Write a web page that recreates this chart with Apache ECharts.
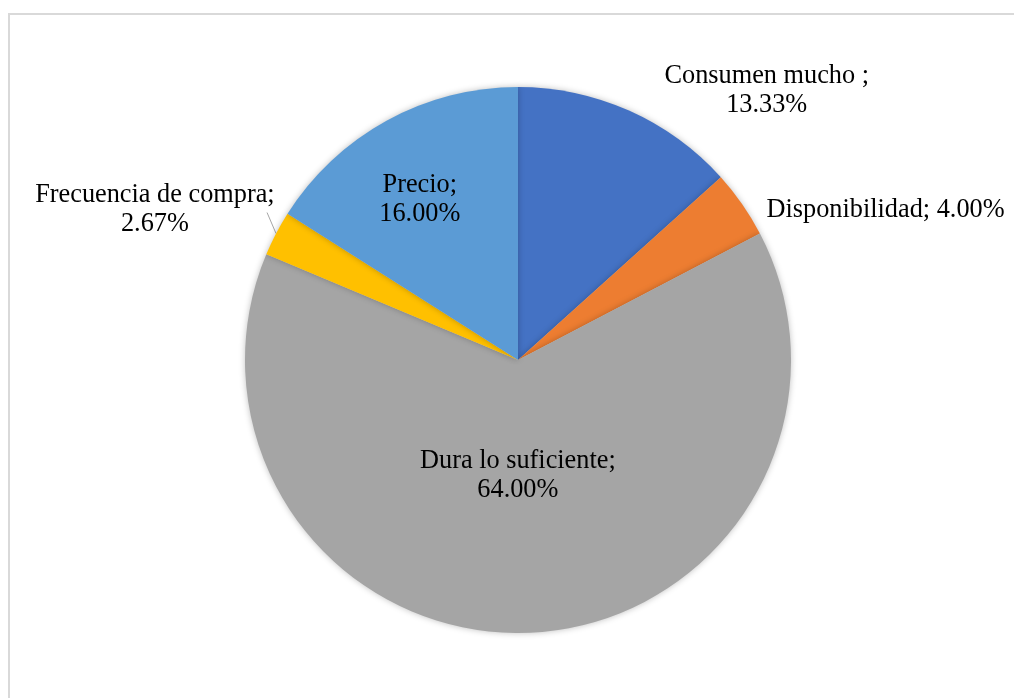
<!DOCTYPE html>
<html>
<head>
<meta charset="utf-8">
<script src="https://cdn.jsdelivr.net/npm/echarts@6/dist/echarts.min.js"></script>
<style>
html,body{margin:0;padding:0;background:#fff;}
#chart{width:1014px;height:698px;}
</style>
</head>
<body>
<div id="chart"></div>
<script>
const categories = ['Consumen mucho ', 'Disponibilidad', 'Dura lo suficiente', 'Frecuencia de compra', 'Precio'];
const values = [13.33, 4.00, 64.00, 2.67, 16.00];
const colors = ['#4472C4', '#ED7D31', '#A5A5A5', '#FFC000', '#5B9BD5'];
const breakLine = [true, false, true, true, true];

const FONT = 'Liberation Serif, "Times New Roman", serif';
const FS = 26.3;
const labelCfg = [
  {position: 'inside', offset: [192, -142]},
  {position: 'inside', offset: [253, -70]},
  {position: 'inside', offset: [-6, -24]},
  {position: 'outside'},
  {position: 'inside', offset: [-31, -38]}
];

const data = categories.map((name, i) => ({
  name: name,
  value: values[i],
  itemStyle: {color: colors[i]},
  label: Object.assign({show: true}, labelCfg[i]),
  labelLine: {show: i === 3, length: 14, length2: 0, lineStyle: {color: '#a6a6a6', width: 1}}
}));

const chart = echarts.init(document.getElementById('chart'));
chart.setOption({
  backgroundColor: '#fff',
  animation: false,
  graphic: [{
    type: 'rect', silent: true, z: -10,
    shape: {x: 9, y: 14, width: 1100, height: 800},
    style: {fill: '#fff', stroke: '#d9d9d9', lineWidth: 2}
  }],
  series: [{
    type: 'pie',
    center: [518, 360],
    radius: [0, 273],
    startAngle: 90,
    clockwise: true,
    avoidLabelOverlap: false,
    itemStyle: {borderWidth: 0, shadowBlur: 6, shadowColor: 'rgba(0,0,0,0.25)'},
    label: {
      color: '#000',
      fontFamily: FONT,
      fontSize: FS,
      lineHeight: 29,
      align: 'center',
      formatter: function (p) {
        const pct = p.value.toFixed(2) + '%';
        return breakLine[p.dataIndex]
          ? '{c|' + p.name + ';}\n{c|' + pct + '}'
          : '{c|' + p.name + '; ' + pct + '}';
      },
      rich: {
        c: {align: 'center', fontFamily: FONT, fontSize: FS, lineHeight: 29, color: '#000'}
      }
    },
    labelLayout: function (p) {
      if (p.dataIndex === 3 && p.labelLinePoints) {
        const a = p.labelLinePoints[0];
        return {
          dx: 16, dy: -17,
          labelLinePoints: [[a[0], a[1]], [a[0] - 9, a[1] - 21], [a[0] - 9, a[1] - 21]]
        };
      }
      return {};
    },
    data: data
  }]
});
</script>
</body>
</html>
